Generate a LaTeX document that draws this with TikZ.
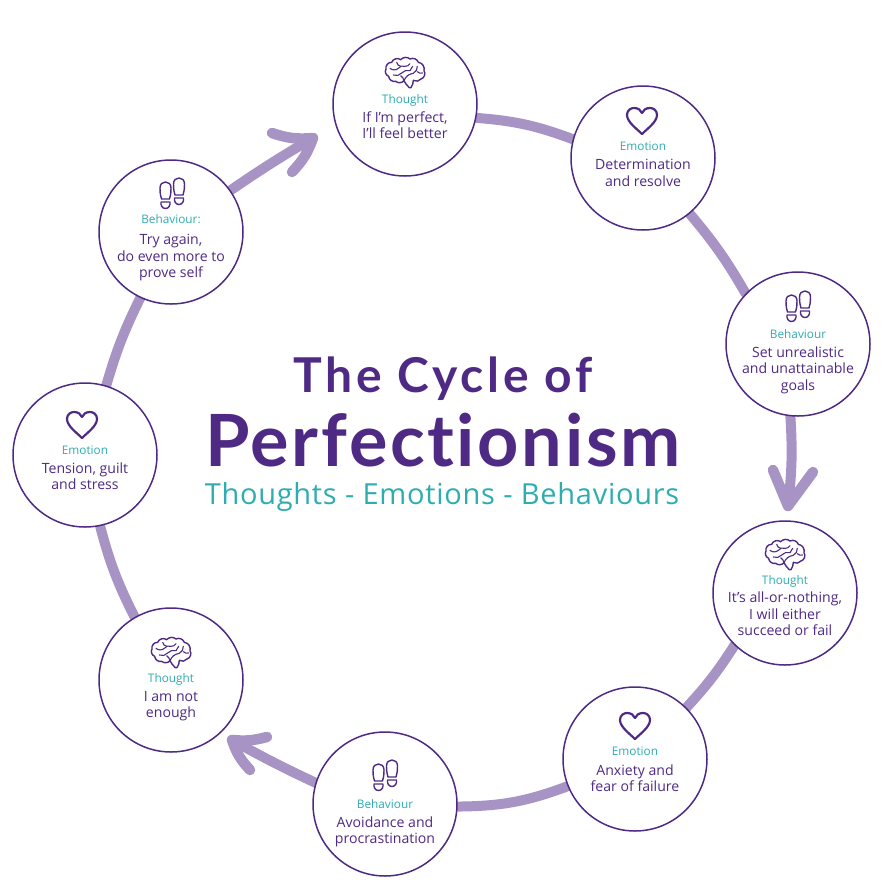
\documentclass[tikz,border=0pt]{standalone}
\usepackage{fontspec}
\setmainfont{Open Sans}
\newfontfamily\latofont{Lato}[LetterSpace=8,Ligatures=NoCommon]
\newfontfamily\latobig{Lato}[LetterSpace=3.7,Ligatures=NoCommon]
\newfontfamily\tagfont{Open Sans}[LetterSpace=2.5]
\usetikzlibrary{backgrounds}
\definecolor{ink}{HTML}{4F2A84}
\definecolor{teal2}{HTML}{2EADB0}
\definecolor{lilac}{HTML}{A794C4}
\newcommand{\stagetext}[4]{% offset, label, gap, lines
  \raisebox{-#1pt}[0pt][0pt]{\fontsize{14.1}{16.4}\selectfont\setlength{\tabcolsep}{0pt}%
  \begin{tabular}[t]{c}{\fontsize{11.8}{16.4}\selectfont\color{teal2}#2}\\[#3pt]#4\end{tabular}}}
\tikzset{
  stage/.style={circle,draw=ink,line width=1.5pt,fill=white,minimum size=144pt,inner sep=0pt,text=ink},
  conn/.style={draw=lilac,line width=10pt,line cap=round},
  barb/.style={draw=lilac,line width=10.5pt,line cap=round,line join=round},
  icon/.style={draw=ink,line width=1.4pt,line join=round,line cap=round},
  brainicon/.pic={
    \begin{scope}[scale=1/3,shift={(-225,-132)}]
    \draw[icon,line width=1.4pt] (168,120) to[bend left=55] (185,100) to[bend left=55] (212,92) to[bend left=45] (240,90) to[bend left=50] (265,100) to[bend left=50] (282,125) to[bend left=55] (273,150) to[bend left=40] (250,154) to[bend left=15] (243,176) to[bend left=5] (238,176) to[bend left=10] (222,155) to[bend left=45] (197,157) to[bend left=50] (176,142) to[bend left=50] (168,120) -- cycle;
    \draw[icon,line width=1.1pt] (222,155) to[bend left=30] (250,133) to[bend right=30] (262,112);
    \draw[icon,line width=1.1pt] (180,118) to[bend right=40] (205,118) to[bend left=40] (225,112) to[bend right=30] (240,104);
    \draw[icon,line width=1.1pt] (190,138) to[bend right=35] (215,132) to[bend left=30] (240,125) to[bend right=20] (248,112);
    \draw[icon,line width=1.1pt] (200,100) to[bend right=30] (212,112);
    \draw[icon,line width=1.1pt] (262,128) to[bend right=30] (278,132);
    \draw[icon,line width=1.1pt] (222,155) to[bend right=20] (212,140);
    \end{scope}
  },
  hearticon/.pic={
    \draw[icon,line width=2.2pt] (0,13) .. controls (-5,8) and (-15,1) .. (-15,-6) .. controls (-15,-11) and (-11,-13) .. (-8,-13) .. controls (-4,-13) and (-1,-11) .. (0,-8) .. controls (1,-11) and (4,-13) .. (8,-13) .. controls (11,-13) and (15,-11) .. (15,-6) .. controls (15,1) and (5,8) .. (0,13) -- cycle;
  },
  shoeicon/.pic={
    \draw[icon] (-4,7) .. controls (-5.5,2) and (-5.5,-1) .. (-5.5,-4) .. controls (-5.5,-8) and (-3,-10) .. (0,-10) .. controls (3,-10) and (5.5,-8) .. (5.5,-4) .. controls (5.5,-1) and (5.5,2) .. (4,7) -- cycle;
    \draw[icon] (-4.5,10) -- (4.5,10) .. controls (5,13) and (3.5,16.5) .. (0,16.5) .. controls (-3.5,16.5) and (-5,13) .. (-4.5,10) -- cycle;
  },
  shoesicon/.pic={
    \pic at (-6.5,-3) {shoeicon};
    \pic at (7,-7) {shoeicon};
  }
}
\begin{document}
\begin{tikzpicture}[x=1pt,y=-1pt]
\useasboundingbox (0,0) rectangle (886,887);
\node[stage] (t1) at (405,104) {\stagetext{-1}{Thought}{3}{If I’m perfect,\\I’ll feel better}};
\node[stage] (e1) at (643,158) {\stagetext{-8}{Emotion}{3.5}{Determination\\and resolve}};
\node[stage] (b1) at (798,344) {\stagetext{-6}{Behaviour}{3}{Set unrealistic\\and unattainable\\goals}};
\node[stage] (t2) at (785,593) {\stagetext{-9}{Thought}{2.5}{It’s all-or-nothing,\\I will either\\succeed or fail}};
\node[stage] (e2) at (635,759) {\stagetext{-4}{Emotion}{4}{Anxiety and\\fear of failure}};
\node[stage] (b2) at (385,804) {\stagetext{4}{Behaviour}{3}{Avoidance and\\procrastination}};
\node[stage] (t3) at (171,680) {\stagetext{2}{Thought}{3}{I am not\\enough}};
\node[stage] (e3) at (85,455) {\stagetext{-1}{Emotion}{3}{Tension, guilt\\and stress}};
\node[stage] (b3) at (171,232) {\stagetext{-9}{Behaviour:}{5.5}{Try again,\\do even more to\\prove self}};
\coordinate (tipA) at (313,138);
\coordinate (barbA1) at (272,133);
\coordinate (barbA2) at (292,172);
\coordinate (tipB) at (788,506);
\coordinate (barbB1) at (773,470);
\coordinate (barbB2) at (813,472);
\coordinate (tipC) at (232,740);
\coordinate (barbC1) at (267,737);
\coordinate (barbC2) at (250,770);
\begin{pgfonlayer}{background}
\draw[conn] (t1.-11) to[bend left=8] (e1.165);
\draw[conn] (e1.-50) to[bend left=5] (b1.136);
\draw[conn] (b1.-96) to[bend left=5] (tipB);
\draw[conn] (t2.-134) to[bend left=5] (e2.45);
\draw[conn] (e2.-158) to[bend left=10] (b2.-2);
\draw[conn] (b2.163) to[bend left=2] (tipC);
\draw[conn] (t3.120) to[bend left=6] (e3.-78);
\draw[conn] (e3.73) to[bend left=5] (b3.-115);
\draw[conn] (b3.35) to[bend left=2] (tipA);
\end{pgfonlayer}
\draw[barb] (barbA1) to[bend right=12] (tipA) to[bend left=12] (barbA2);
\draw[barb] (barbB1) -- (tipB) -- (barbB2);
\draw[barb] (barbC1) to[bend left=10] (tipC) to[bend right=12] (barbC2);
\pic at (405,73) {brainicon};
\pic at (785,555) {brainicon};
\pic at (171,653) {brainicon};
\pic at (642,121) {hearticon};
\pic at (635,726) {hearticon};
\pic at (82,425) {hearticon};
\pic at (798,308) {shoesicon};
\pic at (385,777) {shoesicon};
\pic at (172,195) {shoesicon};
\node[anchor=base,inner sep=0pt,text=ink] (title1) at (443,392) {\fontsize{48}{48}\latofont\bfseries The Cycle of};
\node[anchor=base,inner sep=0pt,text=ink] (title2) at (443,466) {\fontsize{72}{72}\latobig\bfseries Perfectionism};
\node[anchor=base,inner sep=0pt,text=teal2] (title3) at (442,504) {\fontsize{29}{29}\tagfont Thoughts - Emotions - Behaviours};
\end{tikzpicture}
\end{document}
